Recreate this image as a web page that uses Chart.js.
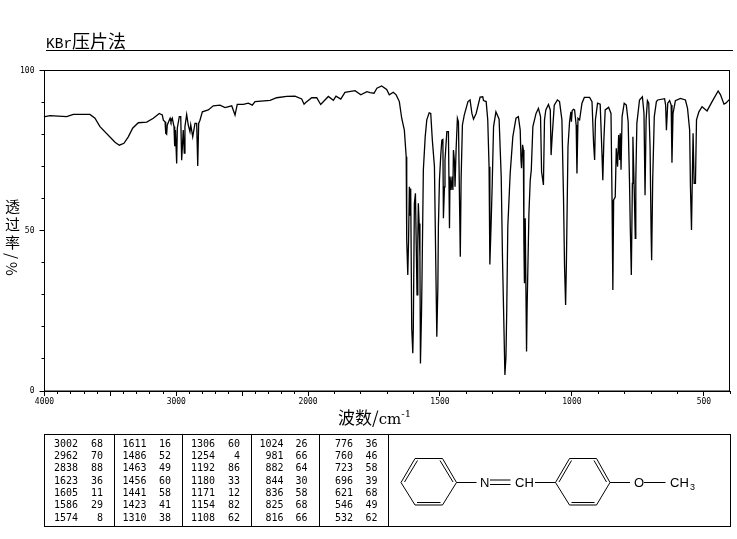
<!DOCTYPE html>
<html lang="zh">
<head>
<meta charset="utf-8">
<title>KBr压片法</title>
<script src="https://cdn.jsdelivr.net/npm/chart.js@4"></script>
<style>
  html, body { margin: 0; padding: 0; background: #fff; }
  body { position: relative; width: 737px; height: 539px; overflow: hidden; color: #000; }
  canvas { position: absolute; left: 0; top: 0; }
  .title { position: absolute; left: 46px; top: 31px; font: 18px/19px "Noto Sans CJK SC"; white-space: nowrap; }
  .title span { font: 14.5px/19px "Liberation Mono"; }
  .title-rule { position: absolute; left: 46px; top: 50px; width: 687px; height: 1px; background: #000; }
  .y-title { position: absolute; left: 4px; top: 199px; font: 15px/17px "Noto Sans CJK SC"; writing-mode: vertical-rl; letter-spacing: 3px; }
  .x-title { position: absolute; left: 338px; top: 406px; font: 17px/21px "Noto Sans CJK SC"; white-space: nowrap; }
  .x-title span { font-family: "DejaVu Serif"; font-size: 15px; }
  .x-title sup { font: 10px/1 "DejaVu Serif"; vertical-align: 7px; }
  .peaks { position: absolute; left: 44px; top: 434px; width: 685px; height: 91px; border: 1px solid #000; }
  .peak-col { position: absolute; top: 2.6px; height: 88.4px; font: 10px/12.33px "DejaVu Sans Mono", monospace; white-space: pre; }
  .peak-col div { height: 12.33px; position: relative; }
  .peak-col b { font-weight: normal; position: absolute; top: 0; }
  .divider { position: absolute; top: 0; width: 1px; height: 91px; background: #000; }
  svg { position: absolute; left: 0; top: 0; }
  svg text { font: 13px "Liberation Sans", sans-serif; }
</style>
</head>
<body>
<canvas id="spectrum" width="737" height="539"></canvas>
<div class="title"><span>KBr</span>压片法</div>
<div class="title-rule"></div>
<div class="y-title">透过率/%</div>
<div class="x-title">波数/<span>cm</span><sup>-1</sup></div>
<div class="peaks" id="peaks"></div>
<svg width="737" height="539" fill="none" stroke="#000" stroke-width="1">
  <path d="M401 482.5L415 458.5H442.5L456.5 482.5L442.5 505H415Z"/>
  <path d="M404.5 482L417.5 460.5M440 460.5L453 482M417 502.5H440.5"/>
  <path d="M456.5 482.5H476.5M490 480H510.5M490 484.5H510.5M535 482.5H555.5"/>
  <path d="M555.5 482.5L569.5 458.5H596.5L610 482.5L596.5 505H569.5Z"/>
  <path d="M559 482L571.5 460.5M594 460.5L606.5 482M571.5 502.5H594.5"/>
  <path d="M610 482.5H630M644 482.5H665.5"/>
  <g fill="#000" stroke="none">
    <text x="480" y="487">N</text>
    <text x="515" y="487">CH</text>
    <text x="634" y="487">O</text>
    <text x="670" y="487">CH</text>
    <text x="690" y="490" style="font-size:9px">3</text>
  </g>
</svg>
<script>
const wavenumbers = [
  3996, 3958, 3832, 3781, 3655, 3617, 3579, 3465, 3432, 3397, 3364, 3331, 3288, 3224, 3174, 3129, 3106,
  3098, 3085, 3080, 3073, 3068, 3047, 3040, 3030, 3017, 3012, 3006, 2997, 2992, 2977, 2966, 2959, 2947,
  2939, 2934, 2921, 2909, 2896, 2890, 2875, 2858, 2845, 2837, 2830, 2820, 2802, 2757, 2719, 2668, 2630,
  2579, 2554, 2537, 2491, 2453, 2423, 2402, 2288, 2238, 2162, 2099, 2048, 2030, 2015,
  1986, 1967, 1952, 1923, 1904, 1894, 1876, 1860, 1822, 1800, 1777, 1765, 1750, 1739, 1721, 1702, 1692,
  1677, 1666, 1654, 1645, 1635, 1628, 1626, 1622, 1619, 1616, 1613, 1611, 1607, 1603, 1601, 1597, 1593,
  1590, 1587, 1584, 1582, 1579, 1576, 1574, 1570, 1568, 1563, 1556, 1550, 1541, 1535, 1529, 1521, 1516,
  1512, 1508, 1506, 1502, 1497, 1493, 1489, 1487, 1483, 1481, 1474, 1468, 1464, 1462, 1458, 1454, 1451,
  1449, 1445, 1443, 1439, 1434, 1430, 1426, 1423, 1420, 1415, 1408, 1394, 1386, 1379, 1373, 1363, 1348,
  1338, 1335, 1325, 1319, 1314, 1311, 1306, 1302, 1297, 1288, 1276, 1268, 1263, 1259, 1254, 1250, 1247,
  1243, 1234, 1224, 1212, 1203, 1196, 1193, 1191, 1187, 1184, 1182, 1180, 1177, 1172, 1170, 1163, 1158,
  1154, 1148, 1136, 1127, 1119, 1115, 1108, 1104, 1099, 1089, 1082, 1079, 1075, 1067, 1055, 1047, 1038,
  1032, 1028, 1024, 1021, 1015, 1009, 1004, 1002, 999, 994, 990, 984, 981, 977, 971, 962, 953, 933,
  924, 918, 914, 911, 903, 893, 886, 883, 879, 874, 861, 852, 848, 845, 842, 836, 832, 827, 823, 819,
  817, 814, 810, 802, 794, 787, 782, 779, 775, 771, 769, 764, 760, 758, 754, 744, 733, 727, 723, 719,
  714, 709, 704, 700, 698, 694, 688, 680, 675, 649, 645, 642, 637, 630, 624, 621, 617, 608, 589, 570,
  562, 554, 551, 547, 544, 541, 537, 532, 528, 519, 507, 488, 469, 446, 437, 424, 417, 403
];
const transmittance = [
  85.6, 85.9, 85.6, 86.3, 86.3, 85.1, 82.5, 77.6, 76.7, 77.3, 79.3, 82, 83.7, 83.9, 85.1, 86.6, 86.1,
  84.5, 84, 80.4, 80.1, 83, 85.1, 84, 85.1, 82.5, 76.4, 81.4, 71, 82, 85.6, 85.6, 72, 81.4,
  74.2, 82.5, 86.3, 83, 80.9, 83, 79.3, 83.5, 83.5, 70.2, 83.5, 84.5, 87.1, 87.7, 89, 89.2, 88.4,
  89, 86.1, 89.4, 89.4, 89.8, 89.2, 90.3, 90.7, 91.5, 91.9, 92, 91.1, 89.5, 90.1,
  91.5, 91.5, 89.4, 91.9, 90.7, 92, 91.1, 93.2, 93.7, 92.4, 93.4, 93.1, 92.9, 94.5, 95.2, 94.1, 92.4,
  93.2, 92.4, 90.3, 85.1, 81.4, 73.1, 47.1, 36.2, 47.1, 63.7, 54.9, 63.2, 19.6, 11.8, 19.6, 58.6, 61.7,
  46.1, 30, 47.1, 58.6, 52.3, 41.9, 8.6, 24.2, 35.7, 69, 79.3, 84.6, 86.8, 86.6, 78.3, 70, 40.3,
  16.9, 32.5, 51.3, 65.8, 73.6, 78.3, 78.5, 53.9, 63.7, 72, 80.9, 80.9, 50.8, 66.9, 62.7, 66.9, 62.7,
  75.2, 71.5, 63.7, 75.2, 85.1, 84, 59.6, 41.9, 65.8, 83, 86.1, 90.3, 90.8, 86.6, 84.8, 86.6, 91.7,
  91.8, 90.6, 90.3, 84.6, 70, 39.5, 52.8, 64.8, 82.5, 87.1, 84.8, 66.9, 40.9, 25.3, 5, 10.7, 25.3,
  51.3, 67.9, 79.3, 85.1, 85.6, 81.4, 72.1, 69.5, 76.8, 75.2, 46.1, 33.6, 53.9, 12.3, 25.3, 55.4, 65.8,
  69, 82.5, 86.6, 88.2, 85.6, 68.4, 64.3, 84.6, 87.7, 89.4, 87.7, 73.6, 79.3, 89.2, 90.8, 90.3, 84.6,
  60.6, 38.8, 26.8, 39.8, 76.2, 84, 87.1, 84, 87.5, 87.9, 87.7, 83, 67.9, 85.1, 84.6, 89.8, 91.6, 91.6,
  90.3, 77.3, 72.1, 84.6, 89.8, 89.5, 73.6, 65.8, 78.3, 87.7, 88.5, 86.6, 59.6, 31.5, 59.6, 60.5, 75.7, 70, 79.9, 72.1,
  80.4, 69, 85.6, 89.8, 89.2, 84, 65.8, 51.3, 36.2, 64.8, 79.3, 62.7, 47.6, 65.8, 83.5, 90.8, 91.8, 86.6, 61.1, 84.6,
  90.6, 89.8, 76.2, 49.2, 40.8, 65.8, 85.6, 90.3, 90.8, 91.2, 89.2, 81.4, 89.8, 90.6, 89.2, 71.2, 86.6, 90.6, 91.3, 90.8,
  88.2, 81.4, 63.7, 50.2, 65.8, 80.4, 64.8, 64.8, 84.6, 87.1, 88.7, 87.4, 90.3, 93.6, 92.4, 89.5, 89.8, 91
];

const xMajorTicks = [4000, 3500, 3000, 2500, 2000, 1500, 1000, 500];
const xMinorTicks = [3900, 3800, 3700, 3600, 3400, 3300, 3200, 3100, 2900, 2800, 2700, 2600, 2400, 2300, 2200, 2100,
  1900, 1800, 1700, 1600, 1400, 1300, 1200, 1100, 900, 800, 700, 600, 400];
const xLabelled = [4000, 3000, 2000, 1500, 1000, 500];

const peakWaves = [
  ['3002', '2962', '2838', '1623', '1605', '1586', '1574'],
  ['1611', '1486', '1463', '1456', '1441', '1423', '1310'],
  ['1306', '1254', '1192', '1180', '1171', '1154', '1108'],
  ['1024', '981', '882', '844', '836', '825', '816'],
  ['776', '760', '723', '696', '621', '546', '532'],
];
const peakValues = [
  ['68', '70', '88', '36', '11', '29', '8'],
  ['16', '52', '49', '60', '58', '41', '38'],
  ['60', '4', '86', '33', '12', '82', '62'],
  ['26', '66', '64', '30', '58', '68', '66'],
  ['36', '46', '58', '39', '68', '49', '62'],
];

// the x axis changes scale at 2000 cm-1, so a plain linear axis won't do
const X_START = 4000;
const X_BREAK = 2000;
const X_END = 403;
const BREAK_FRACTION = 0.3847;

class BrokenWaveScale extends Chart.LinearScale {
  static id = 'brokenWave';
  static defaults = Chart.LinearScale.defaults;

  getPixelForValue(value) {
    const frac = value >= X_BREAK
      ? (X_START - value) / (X_START - X_BREAK) * BREAK_FRACTION
      : BREAK_FRACTION + (X_BREAK - value) / (X_BREAK - X_END) * (1 - BREAK_FRACTION);
    return this.left + frac * this.width;
  }
}
Chart.register(BrokenWaveScale);

const tickFont = { family: '"DejaVu Sans Mono"', size: 8 };

const framePlugin = {
  id: 'frame',
  afterDraw(chart) {
    const { ctx, chartArea: a } = chart;
    ctx.save();
    ctx.strokeStyle = '#000';
    ctx.lineWidth = 1;
    ctx.strokeRect(a.left, a.top, a.right - a.left, a.bottom - a.top);
    ctx.restore();
  },
};

new Chart(document.getElementById('spectrum'), {
  type: 'line',
  plugins: [framePlugin],
  data: {
    datasets: [{
      data: wavenumbers.map((x, i) => ({ x, y: transmittance[i] })),
      borderColor: '#000',
      borderWidth: 1.3,
      pointRadius: 0,
      tension: 0,
      xAxisID: 'x',
      yAxisID: 'y',
    }],
  },
  options: {
    responsive: false,
    animation: false,
    events: [],
    layout: { padding: { left: 0, right: 7.5, top: 70.5, bottom: 128 } },
    plugins: { legend: { display: false }, tooltip: { enabled: false } },
    scales: {
      x: {
        type: 'brokenWave',
        position: 'bottom',
        min: X_END,
        max: X_START,
        weight: 1,
        afterFit(scale) { scale.height = 20; },
        afterBuildTicks(scale) { scale.ticks = xMajorTicks.map((value) => ({ value })); },
        border: { color: '#000' },
        grid: { drawOnChartArea: false, color: '#000', tickLength: 5 },
        ticks: {
          color: '#000',
          font: tickFont,
          padding: 1,
          autoSkip: false,
          maxRotation: 0,
          callback: (value) => (xLabelled.includes(value) ? String(value) : ''),
        },
      },
      xMinor: {
        type: 'brokenWave',
        position: 'bottom',
        min: X_END,
        max: X_START,
        weight: 0,
        afterFit(scale) { scale.height = 0; },
        afterBuildTicks(scale) { scale.ticks = xMinorTicks.map((value) => ({ value })); },
        border: { display: false },
        grid: { drawOnChartArea: false, color: '#000', tickLength: 3 },
        ticks: { display: false, autoSkip: false },
      },
      y: {
        position: 'left',
        min: 0,
        max: 100,
        weight: 1,
        afterFit(scale) { scale.width = 44.5; },
        border: { color: '#000' },
        grid: { drawOnChartArea: false, color: '#000', tickLength: 5 },
        ticks: { color: '#000', font: tickFont, padding: 5, stepSize: 50 },
      },
      yMinor: {
        position: 'left',
        min: 0,
        max: 100,
        weight: 0,
        afterFit(scale) { scale.width = 0; },
        border: { display: false },
        grid: { drawOnChartArea: false, color: '#000', tickLength: 3 },
        ticks: { display: false, stepSize: 10 },
      },
    },
  },
});

// peak table under the spectrum
const peakBox = document.getElementById('peaks');
const colLefts = [0, 69, 137, 206, 274];
const waveEnds = [33, 32.5, 33, 32.5, 34];
const valueEnds = [58, 57, 58, 56.5, 58.5];

peakWaves.forEach((waves, c) => {
  const col = document.createElement('div');
  col.className = 'peak-col';
  col.style.left = colLefts[c] + 'px';
  col.style.width = '68px';
  waves.forEach((wave, r) => {
    const row = document.createElement('div');
    const w = document.createElement('b');
    w.textContent = wave;
    w.style.right = (68 - waveEnds[c]) + 'px';
    const v = document.createElement('b');
    v.textContent = peakValues[c][r];
    v.style.right = (68 - valueEnds[c]) + 'px';
    row.append(w, v);
    col.appendChild(row);
  });
  peakBox.appendChild(col);
});
[69, 137, 206, 274, 343].forEach((left) => {
  const line = document.createElement('div');
  line.className = 'divider';
  line.style.left = left + 'px';
  peakBox.appendChild(line);
});
</script>
</body>
</html>
